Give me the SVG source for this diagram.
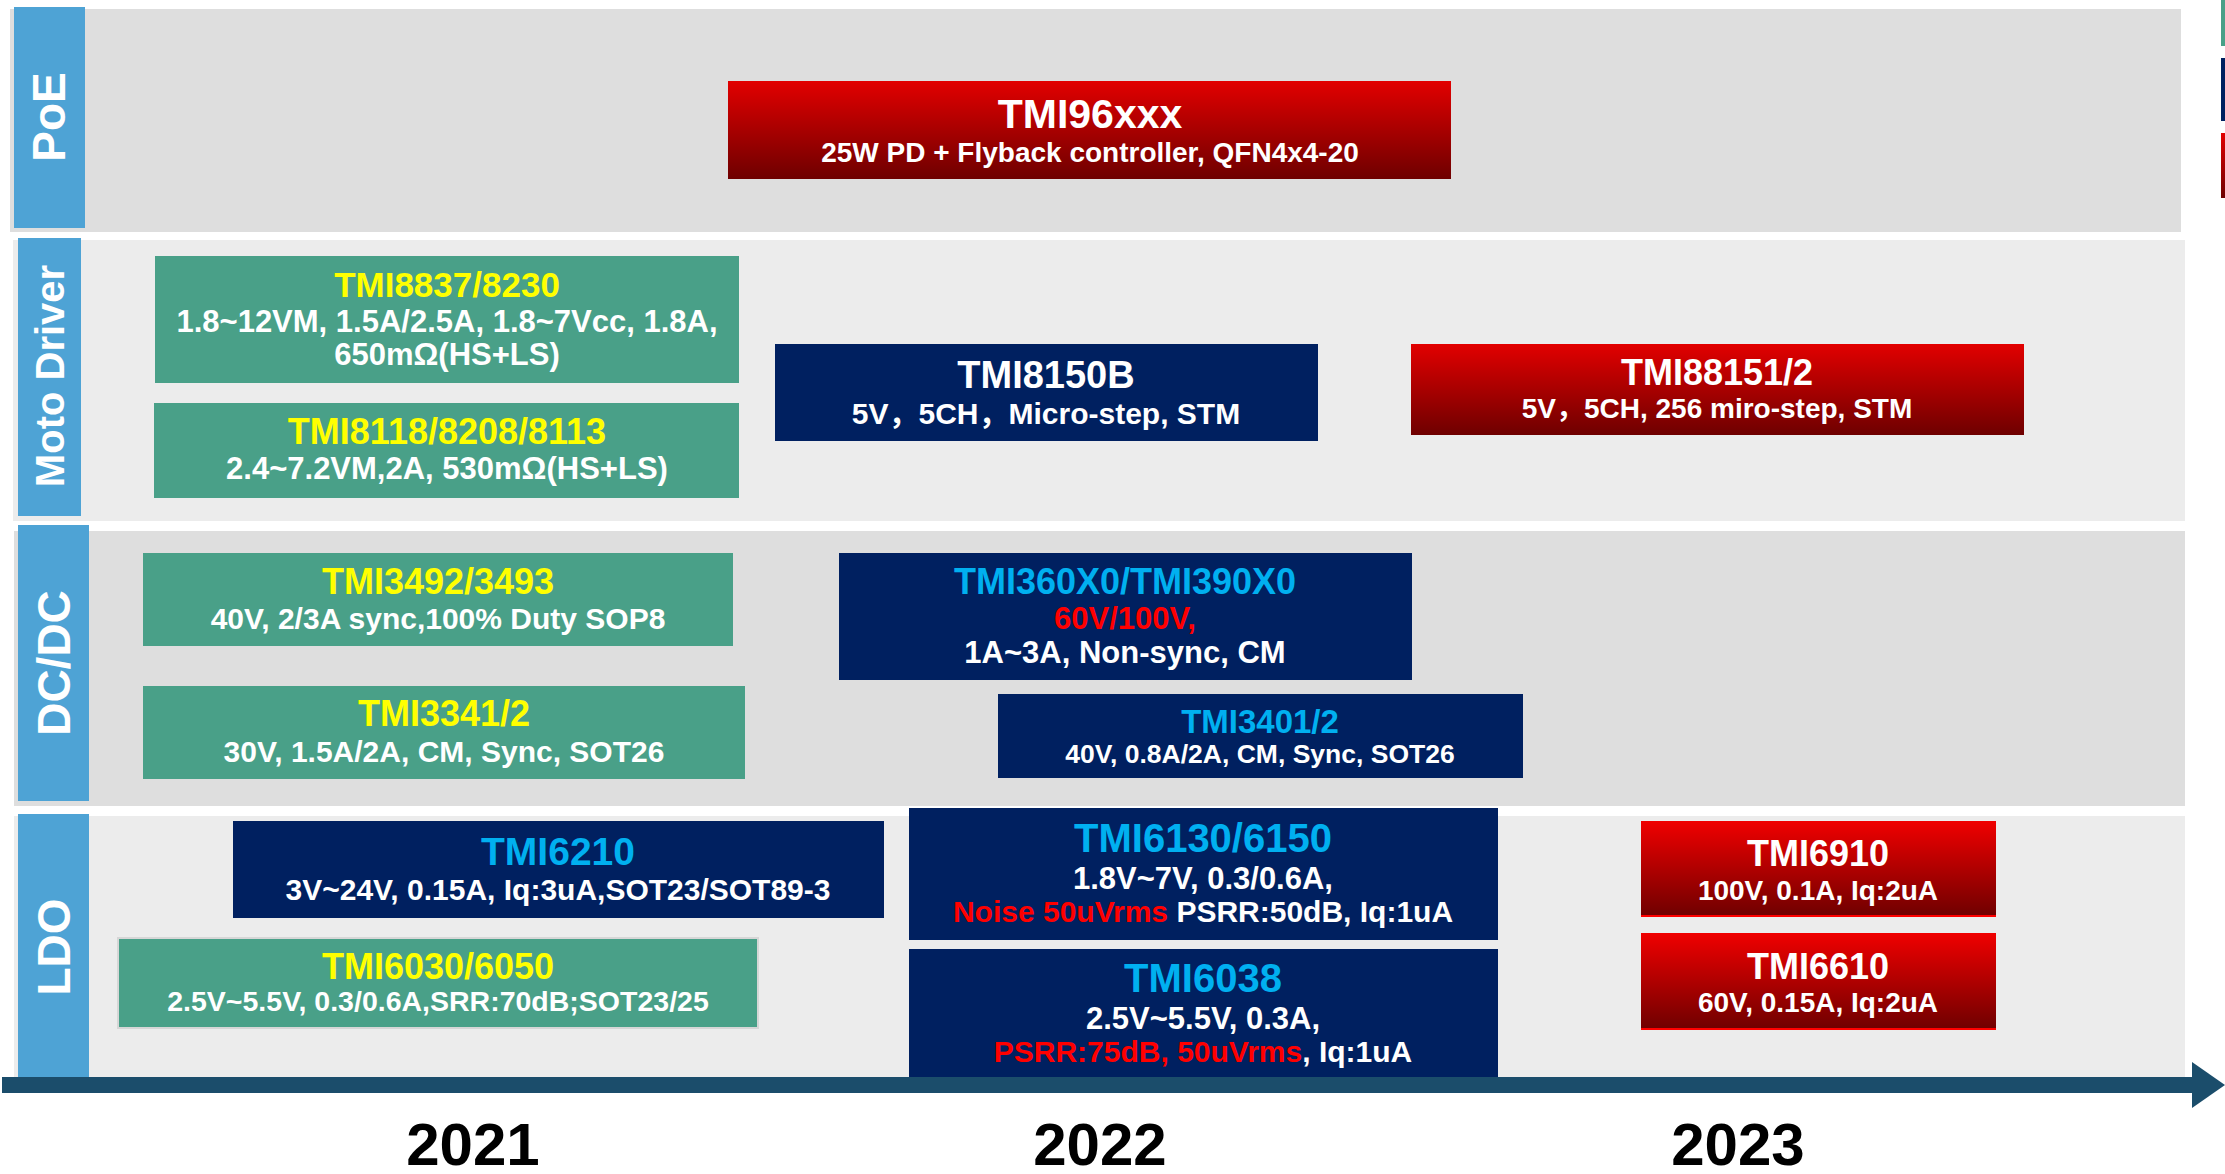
<svg xmlns="http://www.w3.org/2000/svg" width="2225" height="1174" viewBox="0 0 2225 1174">
<defs>
<linearGradient id="red" x1="0" y1="0" x2="0" y2="1">
<stop offset="0" stop-color="#e20000"/>
<stop offset="1" stop-color="#6e0000"/>
</linearGradient>
<linearGradient id="red2" x1="0" y1="0" x2="0" y2="1">
<stop offset="0" stop-color="#f00000"/>
<stop offset="1" stop-color="#6e0000"/>
</linearGradient>
<style>
text{font-family:"Liberation Sans","Noto Sans CJK SC",sans-serif;font-weight:bold;text-anchor:middle;fill:#fff}
.band1{fill:#dedede}
.band2{fill:#ececec}
.lab{fill:#4ea3d5}
.labt{font-size:46px}
.green{fill:#49a088}
.navy{fill:#002060}
.redb{fill:url(#red)}
.redb2{fill:url(#red2)}
.y{fill:#ffff00}
.c{fill:#00b0f0}
.r{fill:#ff0000}
.year{fill:#000;font-size:60px}
</style>
</defs>
<rect width="2225" height="1174" fill="#fff"/>

<g id="legend">
<rect x="2221" y="0" width="4" height="46" class="green"/>
<rect x="2221" y="58" width="4" height="63" class="navy"/>
<rect x="2221" y="133" width="4" height="65" class="redb"/>
</g>

<g id="band-poe">
<rect x="10" y="9" width="2171" height="223" class="band1"/>
<rect x="14" y="7" width="71" height="221" class="lab"/>
<text class="labt" transform="translate(65,117) rotate(-90)">PoE</text>
</g>
<g id="band-moto">
<rect x="13" y="240" width="2172" height="281" class="band2"/>
<rect x="18" y="238" width="63" height="278" class="lab"/>
<text class="labt" style="font-size:40px" transform="translate(64,376) rotate(-90)">Moto Driver</text>
</g>
<g id="band-dcdc">
<rect x="14" y="531" width="2171" height="275" class="band1"/>
<rect x="18" y="525" width="71" height="276" class="lab"/>
<text class="labt" transform="translate(70,663) rotate(-90)">DC/DC</text>
</g>
<g id="band-ldo">
<rect x="14" y="816" width="2171" height="265" class="band2"/>
<rect x="18" y="814" width="71" height="267" class="lab"/>
<text class="labt" transform="translate(70,947) rotate(-90)">LDO</text>
</g>

<g id="TMI96xxx">
<rect x="728" y="81" width="723" height="98" class="redb"/>
<text x="1090" y="128" font-size="41">TMI96xxx</text>
<text x="1090" y="162" font-size="28">25W PD + Flyback controller, QFN4x4-20</text>
</g>
<g id="TMI8837">
<rect x="155" y="256" width="584" height="127" class="green"/>
<text x="447" y="297" font-size="35" class="y">TMI8837/8230</text>
<text x="447" y="332" font-size="31">1.8~12VM, 1.5A/2.5A, 1.8~7Vcc, 1.8A,</text>
<text x="447" y="365" font-size="31">650mΩ(HS+LS)</text>
</g>
<g id="TMI8118">
<rect x="154" y="403" width="585" height="95" class="green"/>
<text x="447" y="444" font-size="36" class="y">TMI8118/8208/8113</text>
<text x="447" y="479" font-size="31">2.4~7.2VM,2A, 530mΩ(HS+LS)</text>
</g>
<g id="TMI8150B">
<rect x="775" y="344" width="543" height="97" class="navy"/>
<text x="1046" y="388" font-size="38">TMI8150B</text>
<text x="1046" y="424" font-size="30">5V，5CH，Micro-step, STM</text>
</g>
<g id="TMI88151">
<rect x="1411" y="344" width="613" height="91" class="redb"/>
<text x="1717" y="385" font-size="36">TMI88151/2</text>
<text x="1717" y="418" font-size="28">5V，5CH, 256 miro-step, STM</text>
</g>
<g id="TMI3492">
<rect x="143" y="553" width="590" height="93" class="green"/>
<text x="438" y="594" font-size="36" class="y">TMI3492/3493</text>
<text x="438" y="629" font-size="30">40V, 2/3A sync,100% Duty SOP8</text>
</g>
<g id="TMI3341">
<rect x="143" y="686" width="602" height="93" class="green"/>
<text x="444" y="726" font-size="36" class="y">TMI3341/2</text>
<text x="444" y="762" font-size="30">30V, 1.5A/2A, CM, Sync, SOT26</text>
</g>
<g id="TMI360X0">
<rect x="839" y="553" width="573" height="127" class="navy"/>
<text x="1125" y="594" font-size="36" class="c">TMI360X0/TMI390X0</text>
<text x="1125" y="629" font-size="31" class="r">60V/100V,</text>
<text x="1125" y="663" font-size="31">1A~3A, Non-sync, CM</text>
</g>
<g id="TMI3401">
<rect x="998" y="694" width="525" height="84" class="navy"/>
<text x="1260" y="733" font-size="33" class="c">TMI3401/2</text>
<text x="1260" y="763" font-size="26.5">40V, 0.8A/2A, CM, Sync, SOT26</text>
</g>
<g id="TMI6210">
<rect x="233" y="821" width="651" height="97" class="navy"/>
<text x="558" y="865" font-size="39" class="c">TMI6210</text>
<text x="558" y="900" font-size="30">3V~24V, 0.15A, Iq:3uA,SOT23/SOT89-3</text>
</g>
<g id="TMI6030">
<rect x="118" y="938" width="640" height="90" class="green" stroke="#d6d6d6" stroke-width="2"/>
<text x="438" y="979" font-size="36" class="y">TMI6030/6050</text>
<text x="438" y="1011" font-size="28.5">2.5V~5.5V, 0.3/0.6A,SRR:70dB;SOT23/25</text>
</g>
<g id="TMI6130">
<rect x="909" y="808" width="589" height="132" class="navy"/>
<text x="1203" y="852" font-size="40" class="c">TMI6130/6150</text>
<text x="1203" y="889" font-size="31">1.8V~7V, 0.3/0.6A,</text>
<text x="1203" y="922" font-size="30"><tspan class="r">Noise 50uVrms</tspan> PSRR:50dB, Iq:1uA</text>
</g>
<g id="TMI6038">
<rect x="909" y="949" width="589" height="132" class="navy"/>
<text x="1203" y="992" font-size="40" class="c">TMI6038</text>
<text x="1203" y="1029" font-size="31">2.5V~5.5V, 0.3A,</text>
<text x="1203" y="1062" font-size="30"><tspan class="r">PSRR:75dB, 50uVrms</tspan>, Iq:1uA</text>
</g>
<g id="TMI6910">
<rect x="1641" y="821" width="355" height="96" class="redb2"/>
<rect x="1641" y="915" width="355" height="2" fill="#ff0000"/>
<text x="1818" y="866" font-size="36">TMI6910</text>
<text x="1818" y="900" font-size="28">100V, 0.1A, Iq:2uA</text>
</g>
<g id="TMI6610">
<rect x="1641" y="933" width="355" height="97" class="redb2"/>
<rect x="1641" y="1028" width="355" height="2" fill="#ff0000"/>
<text x="1818" y="979" font-size="36">TMI6610</text>
<text x="1818" y="1012" font-size="28">60V, 0.15A, Iq:2uA</text>
</g>

<g id="connectors">
<rect x="2" y="1077" width="2192" height="16" fill="#1b4d6b"/>
<polygon points="2192,1062 2225,1085 2192,1108" fill="#1b4d6b"/>
</g>

<g id="years">
<text x="473" y="1165" class="year">2021</text>
<text x="1100" y="1165" class="year">2022</text>
<text x="1738" y="1165" class="year">2023</text>
</g>
</svg>
